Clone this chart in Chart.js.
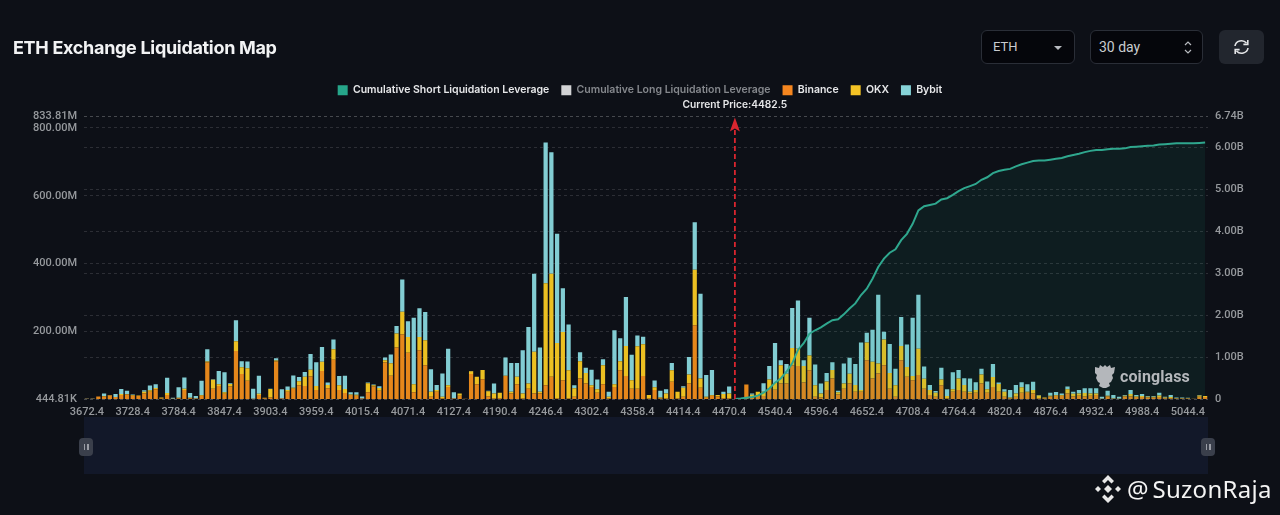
<!DOCTYPE html>
<html><head><meta charset="utf-8">
<style>
html,body{margin:0;padding:0;background:#0d1017;width:1280px;height:515px;overflow:hidden;font-family:Inter,sans-serif}
#wrap{position:relative;width:1280px;height:515px}
canvas{position:absolute;left:0;top:0}
.abs{position:absolute}
#title{left:13px;top:37px;font:700 18px/22px Inter,sans-serif;color:#f2f3f4;letter-spacing:-.31px;white-space:nowrap}
.sel{box-sizing:border-box;background:#05060b;border:1px solid #2a2e37;border-radius:6px;color:#c9ccd0;font:400 13px/32px Roboto,sans-serif;padding-left:11px}
#btn{left:1219px;top:30px;width:45px;height:34px;border-radius:6px;background:#22262e}
#band{left:84px;top:417px;width:1124px;height:57px;background:#121829}
.h{width:14px;height:18px;top:438px;border-radius:4px;background:#3a3f4b}
.h i{position:absolute;top:6px;width:1.5px;height:6px;background:#9a9da5}
#cg{left:1120px;top:365px;font:700 16px/24px Roboto,sans-serif;color:#b4b7bb;letter-spacing:.1px}
#mark{left:1127px;top:473px;font:400 24px/32px "Noto Sans",sans-serif;color:#f4f4f4;white-space:nowrap;letter-spacing:.3px;word-spacing:-3px}
</style></head><body>
<div id="wrap">
<div id="band" class="abs"></div>
<canvas id="c" width="1280" height="515"></canvas>
<div id="title" class="abs">ETH Exchange Liquidation Map</div>
<div class="abs sel" style="left:981px;top:30px;width:94px;height:34px">ETH
  <svg class="abs" style="left:71px;top:14px" width="10" height="6"><path d="M1 1h8L5 5z" fill="#b8bbc0"/></svg></div>
<div class="abs sel" style="left:1090px;top:30px;width:113px;height:34px;padding-left:8px;font-size:14px">30 day
  <svg class="abs" style="left:92px;top:9px" width="10" height="15"><path d="M2 5l3-3 3 3M2 10l3 3 3-3" fill="none" stroke="#b8bbc0" stroke-width="1.2"/></svg></div>
<div id="btn" class="abs"><svg class="abs" style="left:14px;top:9px" width="17" height="16" viewBox="0 0 17 16"><path d="M2 7a6.5 6 0 0 1 11.5-3M15 9a6.5 6 0 0 1-11.5 3" fill="none" stroke="#e4e5e7" stroke-width="1.6"/><path d="M14.8 1v4.4h-4.4M2.2 15v-4.4h4.4" fill="none" stroke="#e4e5e7" stroke-width="1.6"/></svg></div>
<div class="abs h" style="left:79px"><i style="left:4.5px"></i><i style="left:8px"></i></div>
<div class="abs h" style="left:1201px"><i style="left:4.5px"></i><i style="left:8px"></i></div>
<svg class="abs" style="left:1094px;top:364px" width="22" height="25" viewBox="0 0 22 25"><path d="M1 3l4 1 1-3 3 2 2-2 2 2 3-2 1 3 4-1-1 6-2 2 1 3-2 4-2 1 1 3-4 2-3 0-4-2 1-3-2-1-2-4 1-3-2-2z" fill="#b4b7bb"/></svg>
<div id="cg" class="abs">coinglass</div>
<svg class="abs" style="left:1094px;top:474px" width="28" height="30" viewBox="0 0 28 30"><g fill="#e8e8e8"><path d="M14 1l6 6-2.5 2.5L14 6 10.500 9.500 8 7z"/><path d="M14 29l6-6-2.500-2.500L14 24l-3.500-3.500L8 23z"/><path d="M1 15l3-3 3 3-3 3z"/><path d="M27 15l-3-3-3 3 3 3z"/><path d="M14 11l4 4-4 4-4-4z"/></g></svg>
<div id="mark" class="abs">@ SuzonRaja</div>
</div>
<script src="https://cdn.jsdelivr.net/npm/chart.js@4"></script>
<script>
const categories=[
3672.4,3679.4,3686.4,3693.4,3700.4,3707.4,3714.4,3721.4,
3728.4,3735.4,3742.4,3749.4,3756.4,3763.4,3770.4,3777.4,
3784.4,3791.4,3798.4,3805.4,3812.4,3819.4,3833.4,3840.4,
3847.4,3854.4,3861.4,3868.4,3875.4,3882.4,3889.4,3896.4,
3903.4,3910.4,3917.4,3924.4,3931.4,3938.4,3945.4,3952.4,
3959.4,3966.4,3973.4,3980.4,3987.4,3994.4,4001.4,4008.4,
4015.4,4022.4,4029.4,4036.4,4043.4,4050.4,4057.4,4064.4,
4071.4,4078.4,4085.4,4092.4,4099.4,4106.4,4113.4,4120.4,
4127.4,4134.4,4141.4,4148.4,4155.4,4169.4,4176.4,4183.4,
4190.4,4197.4,4204.4,4211.4,4218.4,4225.4,4232.4,4239.4,
4246.4,4253.4,4260.4,4267.4,4274.4,4281.4,4288.4,4295.4,
4302.4,4309.4,4316.4,4323.4,4330.4,4337.4,4344.4,4351.4,
4358.4,4365.4,4372.4,4379.4,4386.4,4393.4,4400.4,4407.4,
4414.4,4421.4,4428.4,4435.4,4442.4,4449.4,4456.4,4463.4,
4470.4,4477.4,4484.4,4491.4,4505.4,4519.4,4526.4,4533.4,
4540.4,4547.4,4554.4,4561.4,4568.4,4575.4,4582.4,4589.4,
4596.4,4603.4,4610.4,4617.4,4624.4,4631.4,4638.4,4645.4,
4652.4,4659.4,4666.4,4673.4,4680.4,4687.4,4694.4,4701.4,
4708.4,4715.4,4722.4,4729.4,4736.4,4743.4,4750.4,4757.4,
4764.4,4771.4,4778.4,4785.4,4792.4,4799.4,4806.4,4813.4,
4820.4,4827.4,4834.4,4841.4,4848.4,4855.4,4862.4,4869.4,
4876.4,4883.4,4890.4,4897.4,4904.4,4911.4,4918.4,4925.4,
4932.4,4939.4,4946.4,4953.4,4960.4,4967.4,4974.4,4981.4,
4988.4,4995.4,5002.4,5009.4,5016.4,5023.4,5030.4,5037.4,
5044.4,5051.4,5058.4,5065.4];
const xTickLabels=[3672.4,3728.4,3784.4,3847.4,3903.4,3959.4,4015.4,4071.4,4127.4,4190.4,4246.4,4302.4,4358.4,4414.4,4470.4,4540.4,4596.4,4652.4,4708.4,4764.4,4820.4,4876.4,4932.4,4988.4,5044.4];
const binanceM=[1,1,8,8,11,6,12,14,10,9,17,22,29,2,12,1,3,27,3,2,10,108,31,39,16,37,142,74,54,1,12,3,5,111,2,22,31,41,39,67,27,83,32,116,27,18,12,10,2,20,37,25,108,69,152,191,137,20,144,100,7,22,2,36,2,10,1,74,44,59,8,2,3,68,17,44,2,31,17,17,41,66,2,56,2,7,61,46,36,19,44,2,36,85,68,31,31,68,2,27,2,2,51,2,7,46,218,34,4,10,8,3,2,0,0,43,5,10,9,31,28,46,46,100,98,49,85,7,5,27,61,14,31,46,22,22,115,61,76,100,31,7,115,66,56,71,31,12,7,41,2,22,27,22,17,19,46,19,36,22,7,2,7,19,19,17,3,3,8,10,10,17,8,10,8,10,12,1,8,1,1,8,8,6,6,5,5,6,3,3,2,2,2,1,7,6];
const okxM=[0,0,0,1,1,0,3,1,2,2,5,4,4,3,6,0,1,4,1,0,2,3,26,5,4,8,29,20,37,0,4,1,25,3,0,5,3,12,27,20,12,27,10,31,14,12,2,3,0,27,4,8,7,37,42,67,46,24,39,74,15,5,5,5,0,7,0,8,22,27,15,15,16,1,5,22,15,15,123,5,301,304,164,142,83,25,51,31,5,10,56,5,8,27,89,25,125,94,10,8,3,15,34,20,27,27,164,27,3,2,4,12,15,0,0,0,8,12,13,27,20,54,29,51,51,49,44,34,12,25,25,6,15,29,20,5,52,49,29,76,46,34,42,29,12,78,29,15,12,17,7,7,34,20,5,8,27,10,29,23,15,3,10,16,3,10,8,2,2,2,2,12,8,7,10,7,5,0,2,1,0,2,7,2,3,2,2,5,2,3,1,1,1,0,4,3];
const bybitM=[1,1,0,8,0,9,15,10,2,0,4,14,11,0,45,3,31,33,14,7,42,36,2,39,59,2,62,18,20,30,53,0,1,7,27,10,36,12,14,46,70,44,7,29,27,39,6,7,6,2,2,5,8,26,22,95,47,196,85,83,66,15,69,108,18,0,0,1,0,0,2,29,0,54,85,41,127,167,230,130,415,358,322,129,135,9,26,16,46,29,18,15,159,68,144,75,32,22,0,20,20,12,22,0,4,51,140,250,64,74,0,7,20,0,0,0,4,0,25,40,118,15,29,118,142,17,111,61,29,25,23,5,59,47,62,140,29,95,203,23,86,49,85,66,172,159,36,15,5,35,20,50,25,20,39,23,17,23,39,4,7,22,25,15,22,24,1,0,9,9,5,8,6,10,14,15,15,6,15,10,6,2,12,4,6,2,2,8,2,6,2,2,1,0,1,0];
const shortCumB=[null,null,null,null,null,null,null,null,null,null,null,null,null,null,null,null,null,null,null,null,null,null,null,null,null,null,null,null,null,null,null,null,null,null,null,null,null,null,null,null,null,null,null,null,null,null,null,null,null,null,null,null,null,null,null,null,null,null,null,null,null,null,null,null,null,null,null,null,null,null,null,null,null,null,null,null,null,null,null,null,null,null,null,null,null,null,null,null,null,null,null,null,null,null,null,null,null,null,null,null,null,null,null,null,null,null,null,null,null,null,null,null,null,
0,0.01,0.03,0.05,0.08,0.15,0.25,0.39,0.49,0.65,0.85,1.17,1.33,1.56,1.64,1.71,1.80,1.88,1.90,2.02,2.16,2.28,2.48,2.63,2.87,3.15,3.35,3.49,3.57,3.79,3.94,4.18,4.50,4.60,4.63,4.66,4.76,4.79,4.87,4.96,5.03,5.08,5.13,5.23,5.29,5.39,5.44,5.47,5.49,5.55,5.60,5.64,5.68,5.69,5.69,5.71,5.73,5.75,5.79,5.82,5.85,5.89,5.92,5.94,5.94,5.96,5.97,5.97,5.98,6.01,6.02,6.03,6.04,6.05,6.07,6.08,6.09,6.10,6.10,6.10,6.10,6.11,6.12];
const longCumB=[];
const leftTickValues=[444810,200e6,400e6,600e6,800e6,833.81e6];
const leftTickLabels=["444.81K","200.00M","400.00M","600.00M","800.00M","833.81M"];
const rightTickValues=[0,1e9,2e9,3e9,4e9,5e9,6e9,6.74e9];
const rightTickLabels=["0","1.00B","2.00B","3.00B","4.00B","5.00B","6.00B","6.74B"];
const seriesNames=["Cumulative Short Liquidation Leverage","Cumulative Long Liquidation Leverage","Binance","OKX","Bybit"];
const legendColors=["#26a68a","#d2d3d5","#f5861f","#f4c325","#86d3d8"];
const legendText=["#e6e7e9","#85888d","#e6e7e9","#e6e7e9","#e6e7e9"];
const currentPrice="4482.5";
const currentPriceCategory=4477.4;

const toMoney=(a,u)=>a.map(v=>v===null?null:v*u);
const tickFont={family:'Roboto',size:11,weight:'500'};
const tickColor='#96999d';
const gridDash={color:'rgba(255,255,255,0.13)',lineWidth:1,drawTicks:false,tickLength:0};
const legendGap={id:'legendGap',beforeLayout(ch){
  const lg=ch.legend;
  if(lg&&!lg._gapped){lg._gapped=true;const f=lg.fit.bind(lg);lg.fit=function(){f();this.height+=11;};}
}};
const priceMarker={id:'priceMarker',afterDatasetsDraw(ch){
  const {ctx,scales:{x,y}}=ch;
  const px=x.getPixelForValue(categories.indexOf(currentPriceCategory));
  const top=y.top+1,bot=y.bottom;
  ctx.save();
  ctx.strokeStyle='#d9262f';ctx.fillStyle='#d9262f';ctx.lineWidth=1.8;
  ctx.setLineDash([5,3]);ctx.beginPath();ctx.moveTo(px,bot);ctx.lineTo(px,top+12);ctx.stroke();
  ctx.setLineDash([]);ctx.beginPath();ctx.moveTo(px,top);ctx.lineTo(px+5,top+14);ctx.lineTo(px,top+11);ctx.lineTo(px-5,top+14);ctx.closePath();ctx.fill();
  ctx.font='600 10.2px Inter';ctx.fillStyle='#e6e7e9';ctx.textAlign='center';ctx.textBaseline='middle';
  ctx.fillText('Current Price:'+currentPrice,px,top-13);
  ctx.restore();
}};
const ds=(name,data,color,extra)=>Object.assign({label:name,data,backgroundColor:color,borderWidth:0},extra);
new Chart(document.getElementById('c'),{
  data:{labels:categories,datasets:[
    {type:'line',label:seriesNames[0],data:toMoney(shortCumB,1e9),yAxisID:'y1',order:0,borderColor:'#2fa78e',borderWidth:2,pointRadius:0,tension:0,fill:'origin',backgroundColor:'rgba(38,166,138,0.09)',spanGaps:false},
    {type:'line',label:seriesNames[1],data:toMoney(longCumB,1e9),yAxisID:'y1',order:1,borderColor:'#d2d3d5',pointRadius:0},
    ds(seriesNames[2],toMoney(binanceM,1e6),'#e5871b',{type:'bar',yAxisID:'y',order:2,stack:'s',barPercentage:0.74,categoryPercentage:1}),
    ds(seriesNames[3],toMoney(okxM,1e6),'#ecc022',{type:'bar',yAxisID:'y',order:3,stack:'s',barPercentage:0.74,categoryPercentage:1}),
    ds(seriesNames[4],toMoney(bybitM,1e6),'#82cdd3',{type:'bar',yAxisID:'y',order:4,stack:'s',barPercentage:0.74,categoryPercentage:1})
  ]},
  plugins:[legendGap,priceMarker],
  options:{
    responsive:false,animation:false,
    layout:{padding:{top:73,left:0,right:0,bottom:0}},
    plugins:{
      tooltip:{enabled:false},
      legend:{display:true,position:'top',align:'center',
        labels:{boxWidth:10,boxHeight:10,padding:12,font:{family:'Inter',size:10.5,weight:'600'},
          generateLabels:()=>seriesNames.map((t,i)=>({text:t,fillStyle:legendColors[i],strokeStyle:legendColors[i],lineWidth:0,fontColor:legendText[i],datasetIndex:i,hidden:false}))}}
    },
    scales:{
      x:{type:'category',stacked:true,grid:{display:false},border:{display:false},
        afterFit(s){s.height=116;},
        ticks:{autoSkip:false,maxRotation:0,minRotation:0,padding:-1,color:tickColor,font:tickFont,
          callback(v,i){const c=categories[i];return xTickLabels.includes(c)?c.toFixed(1):'';}}},
      y:{position:'left',stacked:true,min:leftTickValues[0],max:leftTickValues[5],
        afterFit(s){s.width=84;},
        afterBuildTicks(s){s.ticks=leftTickValues.map(v=>({value:v}));},
        grid:gridDash,border:{display:false,dash:[3,3]},
        ticks:{padding:7,color:tickColor,font:tickFont,callback(v){return leftTickLabels[leftTickValues.indexOf(v)];}}},
      y1:{position:'right',stacked:false,min:rightTickValues[0],max:rightTickValues[7],
        afterFit(s){s.width=72;},
        afterBuildTicks(s){s.ticks=rightTickValues.map(v=>({value:v}));},
        grid:gridDash,border:{display:false,dash:[3,3]},
        ticks:{padding:7,color:tickColor,font:tickFont,callback(v){return rightTickLabels[rightTickValues.indexOf(v)];}}}
    }
  }
});
</script>
</body></html>
